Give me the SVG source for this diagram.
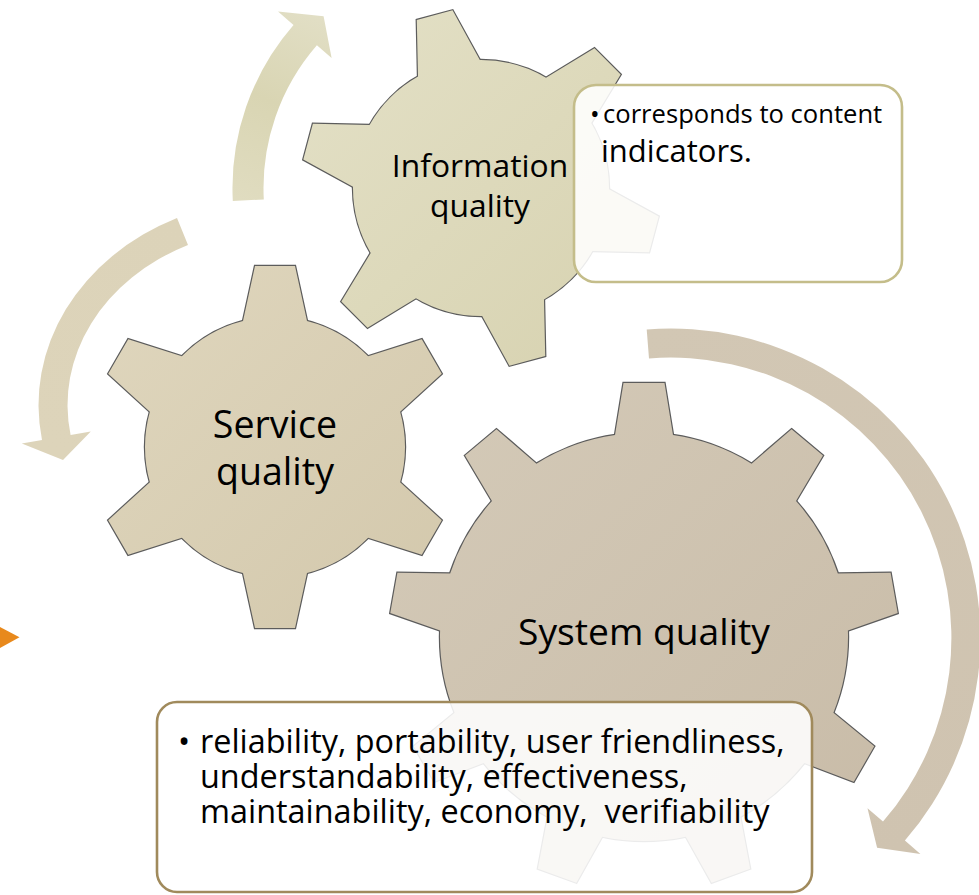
<svg xmlns="http://www.w3.org/2000/svg" xmlns:xlink="http://www.w3.org/1999/xlink" width="979" height="895" viewBox="0 0 979 895">
<defs>
<style>
.lbl{font-family:"Open Sans","Noto Sans","DejaVu Sans",sans-serif;fill:#000;}
.outline{fill:#5c5c5c;stroke:#5c5c5c;stroke-width:2.4;stroke-linejoin:miter;}
.callout{fill:#ffffff;fill-opacity:0.88;stroke-width:2.6;}
</style>
<linearGradient id="gI" gradientUnits="userSpaceOnUse" x1="320" y1="20" x2="650" y2="360"><stop offset="0" stop-color="#e3e0c6"/><stop offset="1" stop-color="#d7d2b0"/></linearGradient>
<linearGradient id="gS" gradientUnits="userSpaceOnUse" x1="110" y1="280" x2="450" y2="620"><stop offset="0" stop-color="#dfd6bd"/><stop offset="1" stop-color="#d3c8ac"/></linearGradient>
<linearGradient id="gY" gradientUnits="userSpaceOnUse" x1="400" y1="390" x2="890" y2="880"><stop offset="0" stop-color="#d4cab8"/><stop offset="1" stop-color="#c8bba7"/></linearGradient>
<linearGradient id="aT" gradientUnits="userSpaceOnUse" x1="240" y1="200" x2="320" y2="10"><stop offset="0" stop-color="#e0dcc0"/><stop offset="0.5" stop-color="#d9d5b3"/><stop offset="1" stop-color="#e2dfc6"/></linearGradient>
<linearGradient id="aL" gradientUnits="userSpaceOnUse" x1="180" y1="220" x2="50" y2="450"><stop offset="0" stop-color="#dcd3b9"/><stop offset="1" stop-color="#ddd4ba"/></linearGradient>
<linearGradient id="aR" gradientUnits="userSpaceOnUse" x1="650" y1="330" x2="900" y2="850"><stop offset="0" stop-color="#d2c7b4"/><stop offset="1" stop-color="#cfc3b0"/></linearGradient>
<path id="tI" d="M-18.5,-179 L18.5,-179 L32,-123.9 L0,0 L-32,-123.9 Z"/>
<path id="tS" d="M-20,-181 L20,-181 L32,-126 L0,0 L-32,-126 Z"/>
<path id="tY" d="M-20.5,-254 L20.5,-254 L29,-201.9 L0,0 L-29,-201.9 Z"/>
<clipPath id="cI">
<circle cx="481" cy="188" r="128"/>
<use xlink:href="#tI" transform="translate(481 188) rotate(105)"/>
<use xlink:href="#tI" transform="translate(481 188) rotate(165)"/>
<use xlink:href="#tI" transform="translate(481 188) rotate(225)"/>
<use xlink:href="#tI" transform="translate(481 188) rotate(285)"/>
<use xlink:href="#tI" transform="translate(481 188) rotate(345)"/>
<use xlink:href="#tI" transform="translate(481 188) rotate(45)"/>
</clipPath>
<clipPath id="cS">
<circle cx="275" cy="447" r="130"/>
<use xlink:href="#tS" transform="translate(275 447) rotate(0)"/>
<use xlink:href="#tS" transform="translate(275 447) rotate(60)"/>
<use xlink:href="#tS" transform="translate(275 447) rotate(120)"/>
<use xlink:href="#tS" transform="translate(275 447) rotate(180)"/>
<use xlink:href="#tS" transform="translate(275 447) rotate(240)"/>
<use xlink:href="#tS" transform="translate(275 447) rotate(300)"/>
</clipPath>
<clipPath id="cY">
<circle cx="644" cy="637" r="204"/>
<use xlink:href="#tY" transform="translate(644 637) rotate(0)"/>
<use xlink:href="#tY" transform="translate(644 637) rotate(40)"/>
<use xlink:href="#tY" transform="translate(644 637) rotate(80)"/>
<use xlink:href="#tY" transform="translate(644 637) rotate(120)"/>
<use xlink:href="#tY" transform="translate(644 637) rotate(160)"/>
<use xlink:href="#tY" transform="translate(644 637) rotate(200)"/>
<use xlink:href="#tY" transform="translate(644 637) rotate(240)"/>
<use xlink:href="#tY" transform="translate(644 637) rotate(280)"/>
<use xlink:href="#tY" transform="translate(644 637) rotate(320)"/>
</clipPath>
</defs>
<rect x="0" y="0" width="979" height="895" fill="#ffffff"/>

<g id="connectors">
<path id="arrow-top" fill="url(#aT)" d="M232.8,201 A248.5,248.5 0 0 1 293.5,25 L278,11.5 L323.6,16.2 L331.6,58.1 L316.9,45.3 A217.5,217.5 0 0 0 263.8,199.4 Z"/>
<path id="arrow-left" fill="url(#aL)" d="M177,218 A239.5,206.2 0 0 0 42,440 L21.8,443.5 L63,460 L90.8,431.6 L70.6,435.1 A210.5,177 0 0 1 188,245 Z"/>
<path id="arrow-right" fill="url(#aR)" d="M646.7,329.5 A309.5,309.5 0 0 1 904.9,840.6 L920.4,854.1 L877.1,847.7 L867.5,808.2 L883,821.6 A280.5,280.5 0 0 0 649,358.4 Z"/>
</g>

<polygon id="orange-marker" points="0,627 19.5,637.3 0,648" fill="#e8891c"/>

<g id="gear-service">
<g class="outline">
<circle cx="275" cy="447" r="130"/>
<use xlink:href="#tS" transform="translate(275 447) rotate(0)"/>
<use xlink:href="#tS" transform="translate(275 447) rotate(60)"/>
<use xlink:href="#tS" transform="translate(275 447) rotate(120)"/>
<use xlink:href="#tS" transform="translate(275 447) rotate(180)"/>
<use xlink:href="#tS" transform="translate(275 447) rotate(240)"/>
<use xlink:href="#tS" transform="translate(275 447) rotate(300)"/>
</g>
<rect x="80" y="250" width="390" height="395" fill="url(#gS)" clip-path="url(#cS)"/>
<text class="lbl" font-size="37.6" text-anchor="middle"><tspan x="275" y="438">Service</tspan><tspan x="275" y="485">quality</tspan></text>
</g>

<g id="gear-information">
<g class="outline">
<circle cx="481" cy="188" r="128"/>
<use xlink:href="#tI" transform="translate(481 188) rotate(105)"/>
<use xlink:href="#tI" transform="translate(481 188) rotate(165)"/>
<use xlink:href="#tI" transform="translate(481 188) rotate(225)"/>
<use xlink:href="#tI" transform="translate(481 188) rotate(285)"/>
<use xlink:href="#tI" transform="translate(481 188) rotate(345)"/>
<use xlink:href="#tI" transform="translate(481 188) rotate(45)"/>
</g>
<rect x="290" y="0" width="390" height="380" fill="url(#gI)" clip-path="url(#cI)"/>
<text class="lbl" font-size="31.8" text-anchor="middle"><tspan x="480" y="177">Information</tspan><tspan x="480" y="216.5">quality</tspan></text>
</g>

<g id="gear-system">
<g class="outline">
<circle cx="644" cy="637" r="204"/>
<use xlink:href="#tY" transform="translate(644 637) rotate(0)"/>
<use xlink:href="#tY" transform="translate(644 637) rotate(40)"/>
<use xlink:href="#tY" transform="translate(644 637) rotate(80)"/>
<use xlink:href="#tY" transform="translate(644 637) rotate(120)"/>
<use xlink:href="#tY" transform="translate(644 637) rotate(160)"/>
<use xlink:href="#tY" transform="translate(644 637) rotate(200)"/>
<use xlink:href="#tY" transform="translate(644 637) rotate(240)"/>
<use xlink:href="#tY" transform="translate(644 637) rotate(280)"/>
<use xlink:href="#tY" transform="translate(644 637) rotate(320)"/>
</g>
<rect x="380" y="375" width="530" height="520" fill="url(#gY)" clip-path="url(#cY)"/>
<text class="lbl" font-size="37.2" text-anchor="middle" x="644" y="645">System quality</text>
</g>

<g id="callout-information">
<rect class="callout" x="574" y="85" width="328" height="197" rx="22" ry="22" stroke="#c4bd8a"/>
<text class="lbl" font-size="25.6"><tspan x="590" y="123">•</tspan><tspan x="603" y="123">corresponds to content</tspan><tspan x="601" y="161.7" font-size="31">indicators.</tspan></text>
</g>

<g id="callout-system">
<rect class="callout" x="157" y="702" width="655" height="190" rx="20" ry="20" stroke="#a08a5c"/>
<text class="lbl" font-size="32.4" xml:space="preserve"><tspan x="178" y="753">•</tspan><tspan x="200" y="753">reliability, portability, user friendliness,</tspan><tspan x="200" y="788">understandability, effectiveness,</tspan><tspan x="200" y="823">maintainability, economy,  verifiability</tspan></text>
</g>
</svg>
